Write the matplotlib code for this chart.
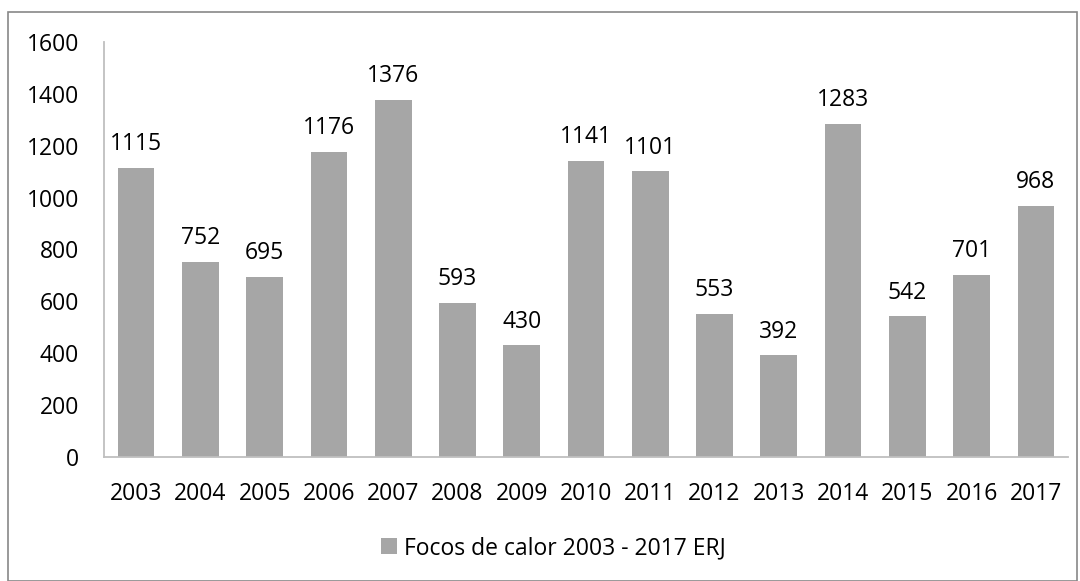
import matplotlib.pyplot as plt
from matplotlib.patches import Rectangle

years = ["2003", "2004", "2005", "2006", "2007", "2008", "2009", "2010",
         "2011", "2012", "2013", "2014", "2015", "2016", "2017"]
focos = [1115, 752, 695, 1176, 1376, 593, 430, 1141, 1101, 553, 392, 1283, 542, 701, 968]
yticks = [0, 200, 400, 600, 800, 1000, 1200, 1400, 1600]

plt.rcParams['font.family'] = ['Open Sans', 'DejaVu Sans']
fs = 16.5

fig = plt.figure(figsize=(10.8, 5.81), dpi=100)
ax = fig.add_axes([104 / 1080, 1 - 457 / 581, (1068 - 104) / 1080, (457 - 42) / 581])

x = range(len(years))
bars = ax.bar(x, focos, width=0.57, color="#A6A6A6", label="Focos de calor 2003 - 2017 ERJ")
for xi, v in zip(x, focos):
    ax.annotate(str(v), (xi, v), xytext=(0, 8.5), textcoords="offset points",
                ha="center", va="bottom", fontsize=fs, color="black")

ax.set_xlim(-0.5, len(years) - 0.5)
ax.set_ylim(0, 1600)
ax.set_yticks(yticks)
ax.set_xticks(list(x))
ax.set_xticklabels(years)
ax.tick_params(axis="both", length=0, labelsize=fs)
ax.tick_params(axis="y", pad=18)
ax.tick_params(axis="x", pad=18)
for s in ["top", "right"]:
    ax.spines[s].set_visible(False)
for s in ["left", "bottom"]:
    ax.spines[s].set_color("#BFBFBF")
    ax.spines[s].set_linewidth(1.3)

fig.legend(handles=[bars], loc="center", bbox_to_anchor=(553 / 1080, 1 - 548 / 581),
           frameon=False, fontsize=fs, handlelength=0.7, handleheight=0.7,
           handletextpad=0.3)

fig.patches.append(Rectangle((8 / 1080, 0), (1077 - 8) / 1080, 1 - 12 / 581,
                             transform=fig.transFigure, fill=False,
                             edgecolor="#888888", linewidth=1.2))

fig.savefig("out.png", dpi=100)
